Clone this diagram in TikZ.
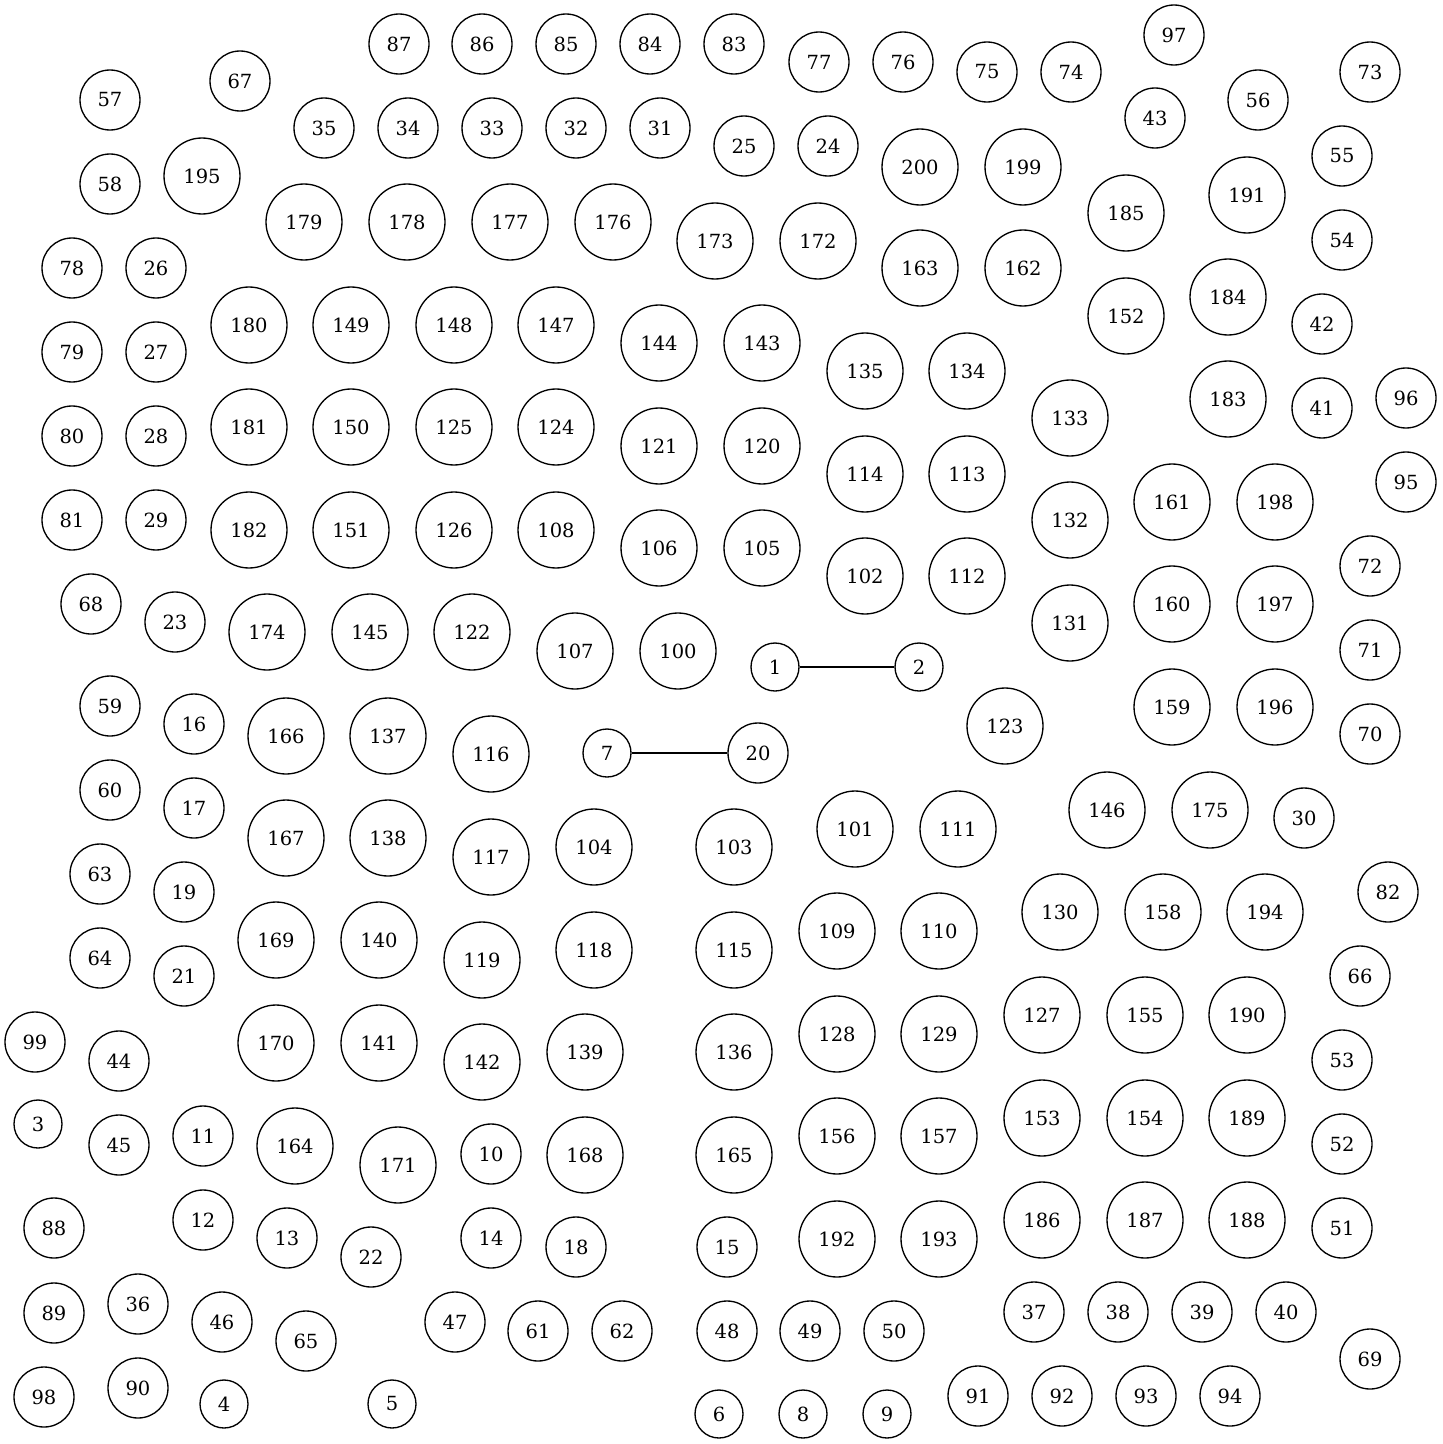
\documentclass[tikz,border=0pt]{standalone}
\usepackage{fontspec}
\setmainfont{DejaVu Serif}
\begin{document}
\begin{tikzpicture}[x=0.6pt,y=-0.6pt,
  vtx/.style={circle,draw,line width=0.8pt,inner sep=0pt,font=\fontsize{11.7}{14}\selectfont},
  edgeline/.style={line width=0.8pt}]
\useasboundingbox (0,0) rectangle (1443,1444);
\foreach \n/\x/\y in {
87/399/44, 86/482/44, 85/566/44, 84/650/44, 83/734/44,
77/819/62, 76/903/62, 75/987/72, 74/1071/72, 97/1174/35, 73/1370/72,
67/240/81, 57/110/100, 56/1258/100, 43/1155/118,
35/324/128, 34/408/128, 33/492/128, 32/576/128, 31/660/128,
25/744/146, 24/828/146, 55/1342/156, 200/920/167, 199/1023/167,
195/202/176, 58/110/184, 191/1247/195, 185/1126/213,
179/304/222, 178/407/222, 177/510/222, 176/613/222,
173/715/241, 172/818/241, 54/1342/240, 163/920/268, 162/1023/268,
78/72/268, 26/156/268, 184/1228/297, 152/1126/316, 42/1322/324,
180/249/325, 149/351/325, 148/454/325, 147/556/325,
144/659/343, 143/762/343, 79/72/352, 27/156/352,
135/865/371, 134/967/371, 96/1406/398, 183/1228/399, 41/1322/408,
133/1070/418, 80/72/436, 28/156/436,
181/249/427, 150/351/427, 125/454/427, 124/556/427,
121/659/446, 120/762/446, 114/865/474, 113/967/474,
95/1406/482, 161/1172/502, 198/1275/502, 81/72/520, 29/156/520,
132/1070/520, 182/249/530, 151/351/530, 126/454/530, 108/556/530,
106/659/548, 105/762/548, 72/1370/566, 102/865/576, 112/967/576,
68/91/604, 160/1172/604, 197/1275/604, 23/175/622, 131/1070/623,
174/267/632, 145/370/632, 122/472/632, 107/575/651, 100/678/651,
71/1370/650, 1/775/667, 2/919/667, 59/110/706,
159/1172/707, 196/1275/707, 16/194/724, 123/1005/726, 70/1370/734,
166/286/736, 137/388/736, 116/491/754, 7/607/753, 20/758/753,
60/110/790, 17/194/808, 146/1107/810, 175/1210/810, 30/1304/818,
101/855/829, 111/958/829, 167/286/838, 138/388/838,
104/594/847, 103/734/847, 117/491/857, 63/100/874, 19/184/892,
82/1388/892, 130/1060/912, 158/1163/912, 194/1265/912,
109/837/931, 110/939/931, 169/276/940, 140/379/940,
118/594/950, 115/734/950, 64/100/958, 119/482/960, 21/184/976,
66/1360/976, 127/1042/1015, 155/1145/1015, 190/1247/1015,
128/837/1034, 129/939/1034, 99/35/1042, 170/276/1043, 141/379/1043,
139/585/1052, 136/734/1052, 53/1342/1060, 44/119/1061, 142/482/1062,
153/1042/1118, 154/1145/1118, 189/1247/1118, 3/38/1124, 11/203/1136,
156/837/1136, 157/939/1136, 45/119/1145, 164/295/1146, 52/1342/1144,
10/491/1154, 165/734/1155, 168/585/1155, 171/398/1165,
186/1042/1220, 187/1145/1220, 188/1247/1220, 12/203/1220, 88/54/1228,
51/1342/1228, 13/287/1238, 14/491/1238, 192/837/1239, 193/939/1239,
15/727/1247, 18/576/1247, 22/371/1257, 36/138/1304,
37/1034/1312, 38/1118/1312, 39/1202/1312, 40/1286/1312,
89/54/1313, 46/222/1322, 47/455/1322,
61/538/1331, 62/622/1331, 48/727/1331, 49/810/1331, 50/894/1331,
65/306/1341, 69/1370/1359, 90/138/1388, 98/44/1397,
91/978/1396, 92/1062/1396, 93/1146/1396, 94/1230/1396,
4/224/1404, 5/392/1404, 6/719/1414, 8/803/1414, 9/887/1414}{
  \pgfmathtruncatemacro\d{\n<10 ? 48 : (\n<100 ? 60 : 76)}
  \node[vtx, minimum size=\d*0.6pt] (n\n) at (\x,\y) {\n};
}
\draw[edgeline] (n1) -- (n2);
\draw[edgeline] (n7) -- (n20);
\end{tikzpicture}
\end{document}
